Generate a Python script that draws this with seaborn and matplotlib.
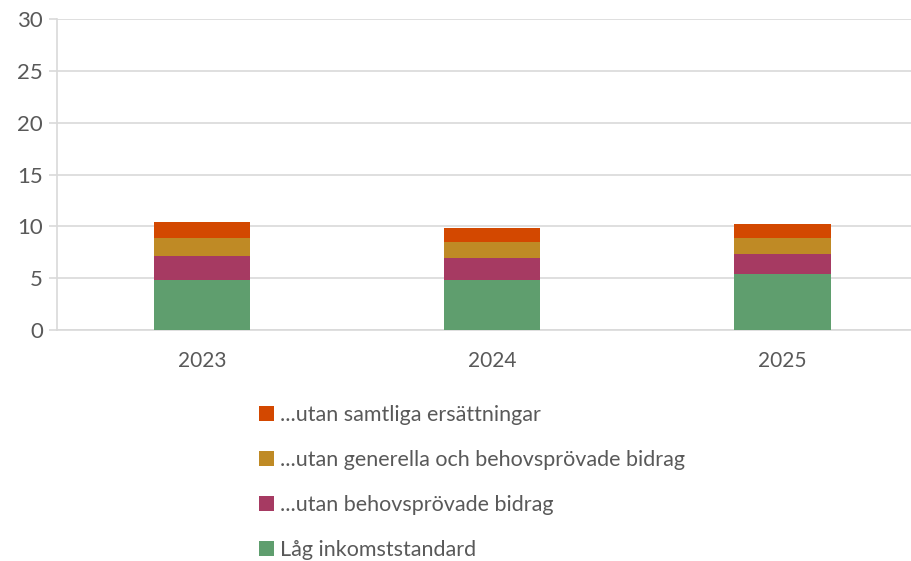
import matplotlib
matplotlib.use("Agg")
import matplotlib.pyplot as plt
from matplotlib.patches import Patch
import seaborn as sns
import pandas as pd
import numpy as np

years = ["2023", "2024", "2025"]
lag_inkomst = [4.85, 4.85, 5.4]
utan_behov = [2.3, 2.1, 1.95]
utan_gen_behov = [1.75, 1.55, 1.55]
utan_samtliga = [1.55, 1.35, 1.35]

series = ["Låg inkomststandard", "...utan behovsprövade bidrag",
          "...utan generella och behovsprövade bidrag", "...utan samtliga ersättningar"]
colors = ["#5F9E6E", "#A63A62", "#BF8A25", "#D34800"]

sns.set_theme(style="white")
plt.rcParams['font.family'] = ['Lato', 'DejaVu Sans']

W, H = 912, 561
fig = plt.figure(figsize=(W / 100, H / 100), dpi=100)
ax = fig.add_axes([57 / W, 1 - 330 / H, (912 - 57) / W, (330 - 19.3) / H])

segs = [lag_inkomst, utan_behov, utan_gen_behov, utan_samtliga]
cum = np.cumsum(np.array(segs), axis=0)
# draw from top-level cumulative down so lower segments overlay
for i in range(3, -1, -1):
    df = pd.DataFrame({"year": years, "value": cum[i]})
    sns.barplot(data=df, x="year", y="value", color=colors[i], ax=ax,
                width=0.334, saturation=1, edgecolor="none", linewidth=0, zorder=3)

ax.set_ylim(0, 30)
ax.set_xlim(-0.5, 2.448)
ax.set_yticks(range(0, 31, 5))
ax.yaxis.grid(True, color="#D9D9D9", linewidth=1.2, zorder=0)
ax.set_axisbelow(True)
for s in ["top", "right"]:
    ax.spines[s].set_visible(False)
ax.spines["left"].set_color("#D9D9D9")
ax.spines["bottom"].set_color("#D9D9D9")
ax.spines["left"].set_linewidth(1.2)
ax.spines["bottom"].set_linewidth(1.2)
ax.tick_params(axis="y", which="both", left=True, length=6, width=1.2, color="#D9D9D9",
               labelsize=16, labelcolor="#595959", pad=4)
ax.tick_params(axis="x", bottom=False, labelsize=15, labelcolor="#595959", pad=9)
ax.set_xlabel("")
ax.set_ylabel("")

handles = [Patch(facecolor=colors[i], edgecolor="none") for i in range(3, -1, -1)]
labels = [series[i] for i in range(3, -1, -1)]
leg = fig.legend(handles, labels, loc="upper left", bbox_to_anchor=(248 / W, 1 - 394 / H),
                 frameon=False, fontsize=15.5, handlelength=0.7, handleheight=0.7,
                 handletextpad=0.3, labelspacing=1.16, borderpad=0)
for t in leg.get_texts():
    t.set_color("#595959")

fig.savefig("out.png", dpi=100)
